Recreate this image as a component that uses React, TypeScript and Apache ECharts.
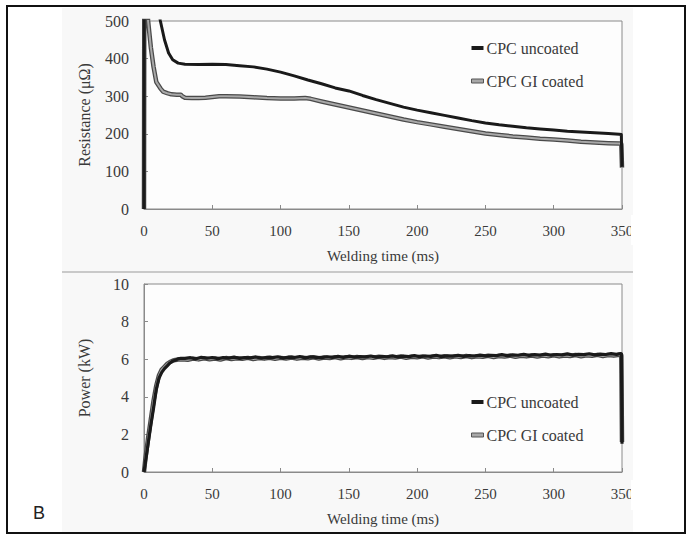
import React, { useEffect, useRef } from 'react';
import * as echarts from 'echarts';

// Resistance (µΩ) vs welding time (ms)
const resUncoated: [number, number][] = [
  [0, 0], [0.3, 900], [5, 700], [10, 540], [12, 500], [15, 450], [18, 415], [21, 397], [25, 388],
  [30, 385], [40, 384], [50, 385], [60, 384], [70, 381], [80, 378], [90, 372], [100, 364],
  [110, 354], [120, 343], [130, 333], [140, 322], [150, 314], [160, 302], [170, 291], [180, 281],
  [190, 271], [200, 263], [210, 256], [220, 249], [230, 242], [240, 235], [250, 229], [260, 224],
  [270, 220], [280, 216], [290, 213], [300, 210], [310, 207], [320, 205], [330, 203], [340, 201],
  [348, 199], [349.5, 198], [350, 112],
];
const resGICoated: [number, number][] = [
  [0, 0], [0.3, 800], [2, 560], [3, 500], [5, 430], [7, 378], [9, 338], [12, 321], [14, 312],
  [17, 308], [20, 305], [24, 304], [27, 304], [28, 300], [30, 296], [35, 295], [40, 295],
  [45, 296], [50, 298], [55, 300], [60, 300], [70, 299], [80, 297], [90, 295], [100, 294],
  [110, 294], [118, 295], [122, 293], [130, 286], [140, 278], [150, 270], [160, 262], [170, 254],
  [180, 246], [190, 238], [200, 231], [210, 225], [220, 219], [230, 213], [240, 207], [250, 201],
  [260, 197], [270, 193], [280, 190], [290, 187], [300, 185], [310, 182], [320, 179], [330, 177],
  [340, 175], [348, 174], [349.5, 173], [350, 110],
];

// Power (kW) vs welding time (ms)
const powUncoated: [number, number][] = [
  [0, 0], [1, 0.5], [3, 1.5], [5, 2.5], [7, 3.4], [9, 4.4], [11, 5.0], [13, 5.3], [15, 5.5],
  [17, 5.65], [19, 5.8], [21, 5.9], [23, 5.95], [25, 6.02], [27, 6.05],
  [30, 6.04], [34, 6.08], [38, 6.02], [42, 6.10], [46, 6.05], [50, 6.09], [54, 6.03], [58, 6.08],
  [62, 6.06], [66, 6.11], [70, 6.04], [74, 6.09], [78, 6.07], [82, 6.12], [86, 6.05], [90, 6.10],
  [94, 6.08], [98, 6.13], [102, 6.06], [106, 6.11], [110, 6.09], [114, 6.14], [118, 6.07],
  [122, 6.12], [126, 6.10], [130, 6.08], [134, 6.13], [138, 6.09], [142, 6.15], [146, 6.10],
  [150, 6.16], [154, 6.11], [158, 6.14], [162, 6.12], [166, 6.17], [170, 6.11], [174, 6.15],
  [178, 6.13], [182, 6.18], [186, 6.12], [190, 6.16], [194, 6.14], [198, 6.19], [202, 6.13],
  [206, 6.17], [210, 6.15], [214, 6.20], [218, 6.14], [222, 6.18], [226, 6.16], [230, 6.21],
  [234, 6.15], [238, 6.19], [242, 6.17], [246, 6.22], [250, 6.18], [254, 6.21], [258, 6.19],
  [262, 6.24], [266, 6.19], [270, 6.23], [274, 6.21], [278, 6.26], [282, 6.20], [286, 6.24],
  [290, 6.22], [294, 6.27], [298, 6.21], [302, 6.25], [306, 6.23], [310, 6.28], [314, 6.22],
  [318, 6.26], [322, 6.24], [326, 6.29], [330, 6.23], [334, 6.27], [338, 6.25], [342, 6.30],
  [346, 6.26], [349, 6.30], [349.6, 6.28], [350, 1.5],
];
const powGICoated: [number, number][] = [
  [0, 0], [1, 0.7], [3, 1.8], [5, 2.8], [7, 3.8], [9, 4.6], [11, 5.15], [13, 5.45], [15, 5.6],
  [17, 5.75], [19, 5.85], [21, 5.92], [23, 5.96], [25, 5.98], [28, 6.00], [32, 5.97], [36, 6.03],
  [40, 5.99], [44, 6.05], [48, 6.00], [52, 6.04], [56, 5.98], [60, 6.06], [64, 6.01], [68, 6.05],
  [72, 6.02], [76, 6.07], [80, 6.01], [84, 6.06], [88, 6.03], [92, 6.08], [96, 6.02], [100, 6.07],
  [104, 6.04], [108, 6.09], [112, 6.03], [116, 6.08], [120, 6.05], [124, 6.10], [128, 6.04],
  [132, 6.09], [136, 6.06], [140, 6.11], [144, 6.05], [148, 6.10], [152, 6.07], [156, 6.12],
  [160, 6.06], [164, 6.11], [168, 6.08], [172, 6.13], [176, 6.07], [180, 6.12], [184, 6.09],
  [188, 6.14], [192, 6.08], [196, 6.13], [200, 6.10], [204, 6.15], [208, 6.09], [212, 6.14],
  [216, 6.11], [220, 6.16], [224, 6.10], [228, 6.15], [232, 6.12], [236, 6.17], [240, 6.11],
  [244, 6.16], [248, 6.13], [252, 6.18], [256, 6.12], [260, 6.17], [264, 6.14], [268, 6.19],
  [272, 6.13], [276, 6.18], [280, 6.15], [284, 6.20], [288, 6.14], [292, 6.19], [296, 6.16],
  [300, 6.21], [304, 6.15], [308, 6.20], [312, 6.17], [316, 6.22], [320, 6.16], [324, 6.21],
  [328, 6.18], [332, 6.23], [336, 6.17], [340, 6.22], [344, 6.19], [348, 6.24], [349.5, 6.2],
  [350, 1.6],
];

const seriesNames = ['CPC uncoated', 'CPC GI coated'];
const xAxisTitle = 'Welding time (ms)';
const yTitles = ['Resistance (μΩ)', 'Power (kW)'];
const panelLabel = 'B';

const SERIF = '"Liberation Serif", "Times New Roman", serif';
const TXT = '#3a3a3a';
const AX = '#8a8a8a';

export default function App() {
  const ref = useRef<HTMLDivElement>(null);
  useEffect(() => {
    if (!ref.current) return;
    const chart = echarts.init(ref.current, undefined, { renderer: 'svg' });

    const xAxisBase = (gridIndex: number) => ({
      type: 'value' as const,
      gridIndex,
      min: 0,
      max: 350,
      interval: 50,
      name: xAxisTitle,
      nameLocation: 'middle' as const,
      nameGap: 39,
      nameTextStyle: { fontFamily: SERIF, fontSize: 15, color: TXT },
      axisLine: { show: true, lineStyle: { color: AX, width: 1 } },
      axisTick: { show: true, inside: true, length: 4, lineStyle: { color: AX } },
      axisLabel: { fontFamily: SERIF, fontSize: 15, color: TXT, margin: 14 },
      splitLine: { show: false },
    });
    const yAxisBase = (gridIndex: number, max: number, interval: number, name: string) => ({
      type: 'value' as const,
      gridIndex,
      min: 0,
      max,
      interval,
      name,
      nameLocation: 'middle' as const,
      nameGap: 52,
      nameTextStyle: { fontFamily: SERIF, fontSize: 16, color: TXT },
      axisLine: { show: true, lineStyle: { color: AX, width: 1 } },
      axisTick: { show: true, inside: true, length: 4, lineStyle: { color: AX } },
      axisLabel: { fontFamily: SERIF, fontSize: 16, color: TXT, margin: 15 },
      splitLine: { show: false },
    });

    const legendBase = (top: number) => ({
      orient: 'vertical' as const,
      left: 471,
      top,
      padding: 0,
      itemWidth: 12,
      itemHeight: 4,
      itemGap: 17,
      textStyle: { fontFamily: SERIF, fontSize: 16, color: TXT, padding: [0, 0, 0, -2] },
      data: [
        { name: seriesNames[0], icon: 'rect', itemStyle: { color: '#1a1a1a' } },
        { name: seriesNames[1], icon: 'rect', itemStyle: { color: '#a8a8a8', borderColor: '#555', borderWidth: 1 } },
      ],
    });

    const lineSeries = (name: string, data: [number, number][], idx: number, color: string, width: number, z: number) => ({
      type: 'line' as const,
      name,
      data,
      xAxisIndex: idx,
      yAxisIndex: idx,
      showSymbol: false,
      symbol: 'none',
      lineStyle: { color, width, join: 'round' as const },
      itemStyle: { color },
      z,
      silent: true,
    });

    chart.setOption({
      animation: false,
      backgroundColor: '#ffffff',
      grid: [
        { left: 144, top: 21, width: 478, height: 188, show: true, borderColor: AX, borderWidth: 1, backgroundColor: 'transparent' },
        { left: 144, top: 284, width: 478, height: 188, show: true, borderColor: AX, borderWidth: 1, backgroundColor: 'transparent' },
      ],
      xAxis: [xAxisBase(0), xAxisBase(1)],
      yAxis: [yAxisBase(0, 500, 100, yTitles[0]), yAxisBase(1, 10, 2, yTitles[1])],
      legend: [legendBase(40), legendBase(394)],
      series: [
        lineSeries('gi-outline-0', resGICoated, 0, '#4a4a4a', 4.5, 2),
        lineSeries(seriesNames[1], resGICoated, 0, '#a8a8a8', 2, 3),
        lineSeries(seriesNames[0], resUncoated, 0, '#1a1a1a', 3, 4),
        lineSeries('gi-outline-1', powGICoated, 1, '#4a4a4a', 4.5, 2),
        lineSeries(seriesNames[1], powGICoated, 1, '#a8a8a8', 2, 3),
        lineSeries(seriesNames[0], powUncoated, 1, '#1a1a1a', 3.2, 4),
      ],
      graphic: [
        { type: 'rect', z: -10, shape: { x: 62, y: 8, width: 571, height: 524 }, style: { fill: '#f8f8f8' }, silent: true },
        { type: 'rect', z: -9, shape: { x: 144, y: 21, width: 478, height: 188 }, style: { fill: '#fdfdfd' }, silent: true },
        { type: 'rect', z: -9, shape: { x: 144, y: 284, width: 478, height: 188 }, style: { fill: '#fdfdfd' }, silent: true },
        { type: 'line', z: 5, shape: { x1: 62, y1: 272, x2: 633, y2: 272 }, style: { stroke: '#9a9a9a', lineWidth: 1 }, silent: true },
        { type: 'rect', z: 100, shape: { x: 631, y: 215, width: 53, height: 30 }, style: { fill: '#ffffff' }, silent: true },
        { type: 'rect', z: 100, shape: { x: 631, y: 480, width: 53, height: 30 }, style: { fill: '#ffffff' }, silent: true },
        { type: 'rect', z: 101, shape: { x: 7, y: 6, width: 678, height: 527 }, style: { fill: 'none', stroke: '#111111', lineWidth: 2 }, silent: true },
        {
          type: 'text', z: 102, x: 33, y: 513,
          style: { text: panelLabel, font: '18px "Liberation Sans", Arial, sans-serif', fill: '#222222', verticalAlign: 'middle', align: 'left' },
          silent: true,
        },
      ],
    });
    return () => chart.dispose();
  }, []);
  return <div ref={ref} style={{ position: 'absolute', left: 0, top: 0, width: 691, height: 536 }} />;
}
